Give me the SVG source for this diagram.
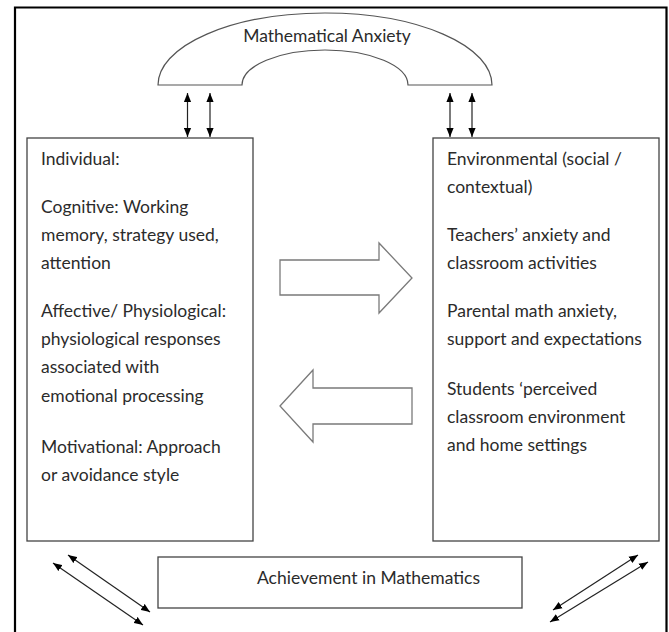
<svg xmlns="http://www.w3.org/2000/svg" width="669" height="632" viewBox="0 0 669 632">
  <style>
    .frame { fill: none; stroke: #000; stroke-width: 2.2; }
    .box { fill: #fff; stroke: #444; stroke-width: 1.3; }
    .arch { fill: #fff; stroke: #555; stroke-width: 1.2; }
    .block { fill: #fff; stroke: #7a7a7a; stroke-width: 1.3; }
    .link { fill: none; stroke: #222; stroke-width: 1.2; marker-start: url(#head); marker-end: url(#head); }
    text { font-family: Lato, "Open Sans", "Liberation Sans", sans-serif; font-size: 17.5px; fill: #2b2b2b; }
  </style>
  <defs>
    <marker id="head" viewBox="0 0 10 8" refX="10" refY="4" markerWidth="9" markerHeight="8" markerUnits="userSpaceOnUse" orient="auto-start-reverse">
      <path d="M0,0 L10,4 L0,8 Z" fill="#000"/>
    </marker>
  </defs>
  <rect width="669" height="632" fill="#fff"/>

  <!-- page border, open at the bottom -->
  <path class="frame" d="M15,632 L15,7.5 L666.5,7.5 L666.5,632"/>

  <g id="anxiety">
    <path class="arch" d="M158,85 A167,72 0 0 1 492,85 L408,85 A83,35 0 0 0 242,85 Z"/>
    <text x="327" y="42" text-anchor="middle">Mathematical Anxiety</text>
  </g>

  <g id="individual">
    <rect class="box" x="27" y="138" width="226" height="403"/>
    <text x="41" y="165">Individual:</text>
    <text x="41" y="213">Cognitive: Working</text>
    <text x="41" y="241">memory, strategy used,</text>
    <text x="41" y="269">attention</text>
    <text x="41" y="317">Affective/ Physiological:</text>
    <text x="41" y="345">physiological responses</text>
    <text x="41" y="373">associated with</text>
    <text x="41" y="402">emotional processing</text>
    <text x="41" y="453">Motivational: Approach</text>
    <text x="41" y="481">or avoidance style</text>
  </g>

  <g id="environmental">
    <rect class="box" x="433" y="138" width="226" height="403"/>
    <text x="447" y="165">Environmental (social /</text>
    <text x="447" y="193">contextual)</text>
    <text x="447" y="241">Teachers’ anxiety and</text>
    <text x="447" y="269">classroom activities</text>
    <text x="447" y="317">Parental math anxiety,</text>
    <text x="447" y="345">support and expectations</text>
    <text x="447" y="395">Students ‘perceived</text>
    <text x="447" y="423">classroom environment</text>
    <text x="447" y="451">and home settings</text>
  </g>

  <g id="achievement">
    <rect class="box" x="158" y="557" width="364" height="51"/>
    <text x="368.5" y="584" text-anchor="middle">Achievement in Mathematics</text>
  </g>

  <g id="connectors">
    <!-- block arrows between the two boxes -->
    <path class="block" d="M280,260 L379,260 L379,243 L412,278 L379,313 L379,295 L280,295 Z"/>
    <path class="block" d="M280,406 L313,370 L313,388 L412,388 L412,424 L313,424 L313,442 Z"/>
    <!-- anxiety to boxes -->
    <line class="link" x1="187.5" y1="93" x2="187.5" y2="137"/>
    <line class="link" x1="210" y1="93" x2="210" y2="137"/>
    <line class="link" x1="450" y1="93" x2="450" y2="137"/>
    <line class="link" x1="472" y1="93" x2="472" y2="137"/>
    <!-- boxes to achievement -->
    <line class="link" x1="68" y1="555" x2="150" y2="612"/>
    <line class="link" x1="53" y1="563" x2="143" y2="625"/>
    <line class="link" x1="553" y1="610" x2="638" y2="555"/>
    <line class="link" x1="550" y1="622" x2="648" y2="562"/>
  </g>
</svg>
